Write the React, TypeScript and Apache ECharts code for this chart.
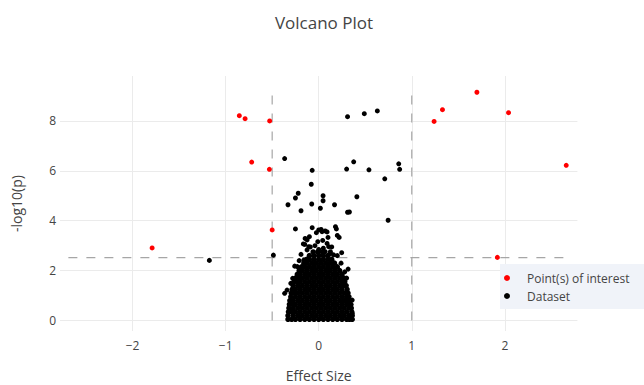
import React, { useEffect, useRef } from "react";
import * as echarts from "echarts";

const chartTitle = "Volcano Plot";
const xAxisName = "Effect Size";
const yAxisName = "-log10(p)";
const legendNames = ["Point(s) of interest", "Dataset"];
const xRange = [-2.78, 2.78];
const yRange = [-0.42, 9.8];
const effectThresholds = [-0.5, 1];
const pThreshold = 2.52;
const hLineSpan = [-2.69, 2.69];
const vLineSpan = [0, 9.15];

// red points of interest [effect, -log10(p)]
const interestPoints: [number, number][] = [
  [-1.79, 2.91], [-0.853, 8.21], [-0.791, 8.09], [-0.527, 8.0], [-0.72, 6.35],
  [-0.53, 6.06], [-0.5, 3.63], [1.24, 7.98], [1.33, 8.45], [1.7, 9.15],
  [2.04, 8.33], [2.66, 6.22], [1.92, 2.53],
];

// black dataset points standing apart from the core
const outlierPoints: [number, number][] = [
  [0.31, 8.17], [0.49, 8.29], [0.63, 8.4],
  [-0.366, 6.49], [-0.07, 6.02], [0.3, 6.07], [0.376, 6.36], [0.54, 6.04],
  [0.86, 6.28], [0.87, 6.06], [0.71, 5.68],
  [-0.08, 5.46], [-0.22, 5.1], [-0.25, 4.91], [0.047, 5.0], [0.047, 4.8], [0.41, 4.96],
  [-0.33, 4.64], [-0.075, 4.67], [0.17, 4.64], [-0.19, 4.4], [0.018, 4.5],
  [0.31, 4.34], [0.33, 4.35], [0.746, 4.02],
  [-0.25, 3.67], [-0.07, 3.72], [-0.025, 3.52], [0.026, 3.65], [0.07, 3.59],
  [0.18, 3.76], [0.19, 3.67], [0.09, 3.55], [0.0, 3.63], [0.036, 3.56],
  [0.2, 3.41], [0.22, 3.33], [0.1, 3.33], [-0.146, 3.29], [-0.1, 3.36],
  [-0.01, 3.16], [0.043, 3.21], [-0.165, 3.07], [0.09, 3.09], [-0.125, 3.23],
  [-0.15, 3.05], [-0.107, 2.96], [0.107, 2.96],
  [-1.175, 2.41], [-0.487, 2.62], [0.247, 2.72], [0.316, 2.06],
];

// ragged fringe around the dense core
const fringePoints: [number, number][] = [
  [-0.125, 2.83], [-0.09, 2.95], [0.126, 2.76], [0.16, 2.63], [0.126, 2.69],
  [0.07, 2.76], [-0.16, 2.42], [-0.23, 2.16], [0.05, 2.9], [-0.04, 3.0],
  [0.14, 2.95], [-0.19, 2.65], [0.2, 2.6], [0.0, 2.85], [0.24, 2.3], [-0.21, 2.4],
  [-0.366, 1.09], [-0.34, 1.22], [-0.3, 1.49], [-0.28, 1.69], [-0.258, 2.18],
  [0.36, 0.82], [0.345, 0.62], [0.36, 0.29], [0.3, 1.7], [0.28, 1.95],
];

// dense core of the volcano: rows of [-log10(p), effects]
const coreRows: [number, number[]][] = [
  [0.05, [-0.33, -0.29, -0.25, -0.2, -0.15, -0.1, -0.05, 0, 0.05, 0.1, 0.15, 0.2, 0.25, 0.3, 0.33, 0.36]],
  [0.2, [-0.33, -0.275, -0.225, -0.175, -0.125, -0.075, -0.025, 0.025, 0.075, 0.125, 0.175, 0.225, 0.275, 0.325, 0.36]],
  [0.35, [-0.325, -0.29, -0.25, -0.2, -0.15, -0.1, -0.05, 0, 0.05, 0.1, 0.15, 0.2, 0.25, 0.3, 0.355]],
  [0.5, [-0.32, -0.275, -0.225, -0.175, -0.125, -0.075, -0.025, 0.025, 0.075, 0.125, 0.175, 0.225, 0.275, 0.325, 0.35]],
  [0.65, [-0.315, -0.28, -0.25, -0.2, -0.15, -0.1, -0.05, 0, 0.05, 0.1, 0.15, 0.2, 0.25, 0.3, 0.345]],
  [0.8, [-0.31, -0.275, -0.225, -0.175, -0.125, -0.075, -0.025, 0.025, 0.075, 0.125, 0.175, 0.225, 0.275, 0.31, 0.335]],
  [0.95, [-0.3, -0.25, -0.2, -0.15, -0.1, -0.05, 0, 0.05, 0.1, 0.15, 0.2, 0.25, 0.3, 0.325]],
  [1.1, [-0.295, -0.26, -0.225, -0.175, -0.125, -0.075, -0.025, 0.025, 0.075, 0.125, 0.175, 0.225, 0.275, 0.315]],
  [1.25, [-0.285, -0.25, -0.2, -0.15, -0.1, -0.05, 0, 0.05, 0.1, 0.15, 0.2, 0.25, 0.305]],
  [1.4, [-0.275, -0.225, -0.175, -0.125, -0.075, -0.025, 0.025, 0.075, 0.125, 0.175, 0.225, 0.265, 0.295]],
  [1.55, [-0.265, -0.23, -0.2, -0.15, -0.1, -0.05, 0, 0.05, 0.1, 0.15, 0.2, 0.25, 0.28]],
  [1.7, [-0.25, -0.205, -0.175, -0.125, -0.075, -0.025, 0.025, 0.075, 0.125, 0.175, 0.225, 0.27]],
  [1.85, [-0.23, -0.2, -0.15, -0.1, -0.05, 0, 0.05, 0.1, 0.15, 0.2, 0.25]],
  [2.0, [-0.21, -0.175, -0.125, -0.075, -0.025, 0.025, 0.075, 0.125, 0.175, 0.225]],
  [2.15, [-0.185, -0.15, -0.1, -0.05, 0, 0.05, 0.1, 0.15, 0.2]],
  [2.3, [-0.16, -0.125, -0.075, -0.025, 0.025, 0.075, 0.125, 0.17]],
  [2.45, [-0.13, -0.1, -0.05, 0, 0.05, 0.1, 0.14]],
  [2.6, [-0.1, -0.05, 0, 0.05, 0.1]],
  [2.75, [-0.06, -0.01, 0.04]],
];

const FONT = '"Open Sans", verdana, arial, sans-serif';
const TEXT = "#444";
const fmt = (v: number) => (v < 0 ? "\u2212" + Math.abs(v) : String(v));

export default function App() {
  const ref = useRef<HTMLDivElement>(null);
  useEffect(() => {
    const chart = echarts.init(ref.current!, null, { renderer: "svg" });
    const coreData = coreRows.flatMap(([y, xs]) =>
      xs.map((x) => ({ value: [x, y], symbolSize: 5.5 }))
    );
    const datasetData = [
      ...coreData,
      ...fringePoints.map((p) => ({ value: p, symbolSize: 5 })),
      ...outlierPoints.map((p) => ({ value: p, symbolSize: 5 })),
    ];
    const dash = { color: "#a6a6a6", width: 1.2, type: [9, 9] as number[] };
    const lineBase = {
      type: "line" as const,
      symbol: "none",
      silent: true,
      lineStyle: dash,
      z: 1,
    };
    chart.setOption({
      animation: false,
      textStyle: { fontFamily: FONT },
      title: {
        text: chartTitle,
        left: 319,
        top: 9,
        textAlign: "center",
        textStyle: { fontFamily: FONT, fontSize: 17, fontWeight: "normal", color: TEXT },
      },
      grid: { left: 60, right: 66.6, top: 76, bottom: 54, outerBoundsMode: "none", containLabel: false },
      legend: {
        data: legendNames.map((n) => ({ name: n, icon: "circle" })),
        orient: "vertical",
        left: 500,
        top: 264,
        padding: [6, 30, 5, 4],
        itemGap: 2,
        itemWidth: 30,
        itemHeight: 6,
        backgroundColor: "#f0f3f9",
        textStyle: { fontFamily: FONT, fontSize: 12, color: TEXT, lineHeight: 16 },
      },
      xAxis: {
        type: "value",
        min: xRange[0],
        max: xRange[1],
        name: xAxisName,
        nameLocation: "middle",
        nameGap: 37,
        nameTextStyle: { fontFamily: FONT, fontSize: 14, color: TEXT },
        axisLine: { show: false },
        axisTick: { show: false },
        axisLabel: {
          color: TEXT,
          fontSize: 12,
          margin: 8,
          showMinLabel: false,
          showMaxLabel: false,
          formatter: fmt,
        },
        splitLine: {
          show: true,
          showMinLine: false,
          showMaxLine: false,
          lineStyle: { color: "#ebebeb", width: 1 },
        },
      },
      yAxis: {
        type: "value",
        min: yRange[0],
        max: yRange[1],
        name: yAxisName,
        nameLocation: "middle",
        nameGap: 37,
        nameTextStyle: { fontFamily: FONT, fontSize: 14, color: TEXT },
        axisLine: { show: false },
        axisTick: { show: false },
        axisLabel: {
          color: TEXT,
          fontSize: 12,
          margin: 4,
          showMinLabel: false,
          showMaxLabel: false,
          formatter: fmt,
        },
        splitLine: {
          show: true,
          showMinLine: false,
          showMaxLine: false,
          lineStyle: { color: "#ebebeb", width: 1 },
        },
      },
      series: [
        { ...lineBase, name: "p threshold", data: [[hLineSpan[0], pThreshold], [hLineSpan[1], pThreshold]] },
        ...effectThresholds.map((x, i) => ({
          ...lineBase,
          name: "effect threshold " + i,
          data: [[x, vLineSpan[0]], [x, vLineSpan[1]]],
        })),
        {
          type: "scatter",
          name: legendNames[0],
          data: interestPoints,
          symbol: "circle",
          symbolSize: 5,
          itemStyle: { color: "#ff0000", opacity: 1 },
          z: 3,
        },
        {
          type: "scatter",
          name: legendNames[1],
          data: datasetData,
          symbol: "circle",
          itemStyle: { color: "#000000", opacity: 1 },
          large: false,
          z: 3,
        },
      ],
    });
    return () => chart.dispose();
  }, []);
  return (
    <div
      ref={ref}
      style={{ position: "absolute", left: 0, top: 0, width: 644, height: 385, background: "#fff" }}
    />
  );
}
